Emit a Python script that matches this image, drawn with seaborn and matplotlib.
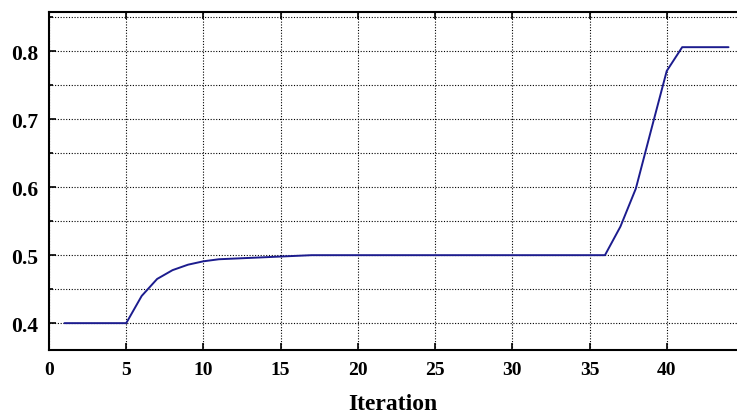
import numpy as np
import pandas as pd
import seaborn as sns
import matplotlib
matplotlib.use("Agg")
import matplotlib.pyplot as plt
from matplotlib.ticker import MultipleLocator

iterations = list(range(1, 45))
values = [0.400, 0.400, 0.400, 0.400, 0.400,
          0.440, 0.465, 0.478, 0.486, 0.491,
          0.494, 0.495, 0.496, 0.497, 0.498,
          0.499, 0.500, 0.500, 0.500, 0.500,
          0.500, 0.500, 0.500, 0.500, 0.500,
          0.500, 0.500, 0.500, 0.500, 0.500,
          0.500, 0.500, 0.500, 0.500, 0.500,
          0.500, 0.542, 0.598, 0.685, 0.771,
          0.806, 0.806, 0.806, 0.806]
x_ticks = [0, 5, 10, 15, 20, 25, 30, 35, 40]
y_ticks = [0.4, 0.5, 0.6, 0.7, 0.8]
x_label = "Iteration"

df = pd.DataFrame({"Iteration": iterations, "Value": values})

sns.set_theme(style="white")
plt.rcParams['font.family'] = ['Liberation Serif', 'DejaVu Serif']

fig = plt.figure(figsize=(7.37, 4.14), dpi=100)
ax = fig.add_axes([0.0665, 0.153, 0.9335, 0.816])

sns.lineplot(data=df, x="Iteration", y="Value", ax=ax, color="#1c1c8e", linewidth=1.4)

ax.set_xlim(0, 44.55)
ax.set_ylim(0.361, 0.858)
ax.set_xticks(x_ticks)
ax.set_yticks(y_ticks)
ax.yaxis.set_minor_locator(MultipleLocator(0.05))
ax.set_xticklabels([str(t) for t in x_ticks], fontweight="bold", fontsize=14, color="black")
ax.set_yticklabels([f"{t:.1f}" for t in y_ticks], fontweight="bold", fontsize=15.5, color="black")

ax.grid(True, which="major", axis="x", color="black", linestyle=(0, (1, 1.5)), linewidth=0.8)
ax.grid(True, which="both", axis="y", color="black", linestyle=(0, (1, 1.5)), linewidth=0.8)
ax.tick_params(which="both", direction="in", top=True, bottom=True, left=True, length=5, width=1.2, colors="black")
ax.tick_params(which="minor", length=3)
ax.tick_params(axis="x", pad=8)
ax.tick_params(axis="y", pad=8)

for side in ["left", "bottom", "top"]:
    ax.spines[side].set_color("black")
    ax.spines[side].set_linewidth(1.5)
ax.spines["right"].set_visible(False)

ax.set_xlabel(x_label, fontweight="bold", fontsize=17, labelpad=11, color="black")
ax.set_ylabel("")

fig.savefig("out.png", dpi=100)
